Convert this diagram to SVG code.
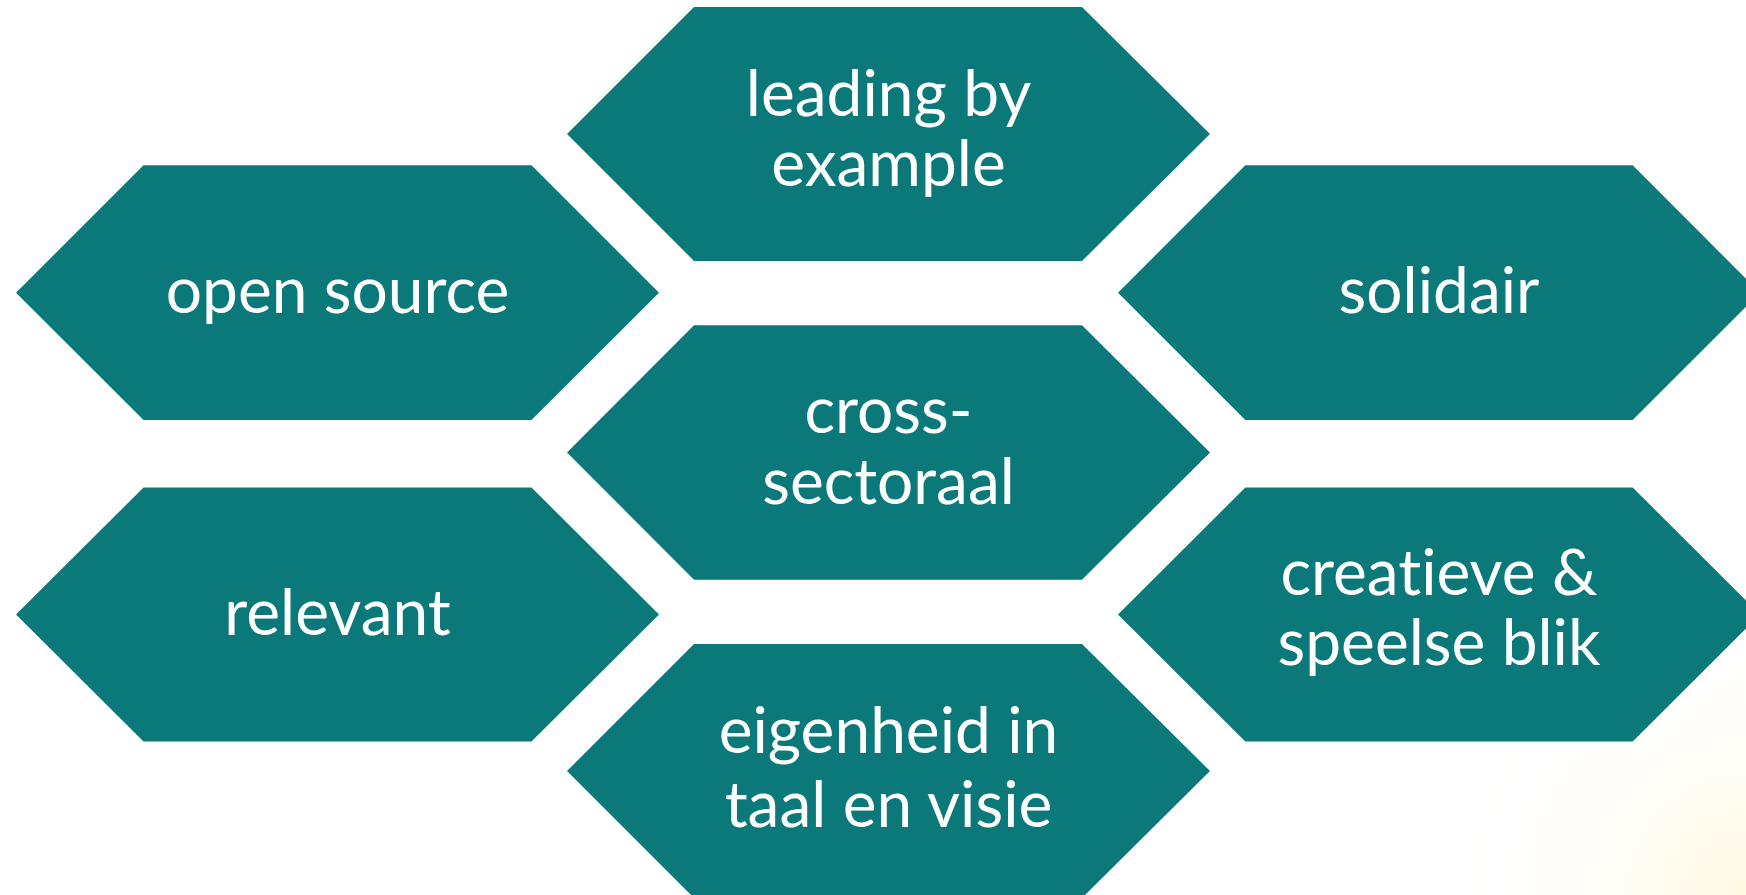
<svg xmlns="http://www.w3.org/2000/svg" width="1746" height="895" viewBox="0 0 1746 895">
  <defs>
    <radialGradient id="glow" cx="1746" cy="895" r="300" gradientUnits="userSpaceOnUse">
      <stop offset="0" stop-color="#FFF8E2" stop-opacity="1"/>
      <stop offset="1" stop-color="#FFFFFF" stop-opacity="0"/>
    </radialGradient>
  </defs>
  <style>
    .hex { fill: #0B7979; }
    .lbl { fill: #FFFFFF; font-family: Lato, "Open Sans", sans-serif; font-size: 64px; text-anchor: middle; font-variant-ligatures: none; font-feature-settings: "liga" 0, "clig" 0; }
  </style>
  <rect x="0" y="0" width="1746" height="895" fill="#FFFFFF"/>
  <rect x="1400" y="560" width="346" height="335" fill="url(#glow)"/>

  <g id="node-leading">
    <polygon class="hex" points="567,134 694,7 1082,7 1210,134 1082,261 694,261"/>
    <text class="lbl" x="888.5" y="116">leading by</text>
    <text class="lbl" x="888.5" y="186">example</text>
  </g>
  <g id="node-opensource">
    <polygon class="hex" points="16,292.7 143.5,165.3 531.5,165.3 659,292.7 531.5,420 143.5,420"/>
    <text class="lbl" x="337.5" y="313">open source</text>
  </g>
  <g id="node-solidair">
    <polygon class="hex" points="1118,292.7 1245.3,165.3 1632.7,165.3 1760,292.7 1632.7,420 1245.3,420"/>
    <text class="lbl" x="1439" y="313">solidair</text>
  </g>
  <g id="node-crosssectoraal">
    <polygon class="hex" points="567,452.5 694,325.3 1082,325.3 1210,452.5 1082,579.7 694,579.7"/>
    <text class="lbl" x="888.5" y="433">cross-</text>
    <text class="lbl" x="888.5" y="504">sectoraal</text>
  </g>
  <g id="node-relevant">
    <polygon class="hex" points="16,614.5 143.5,487.5 531.5,487.5 659,614.5 531.5,741.5 143.5,741.5"/>
    <text class="lbl" x="337.5" y="635">relevant</text>
  </g>
  <g id="node-creatieve">
    <polygon class="hex" points="1118,614.5 1245.3,487.5 1632.7,487.5 1760,614.5 1632.7,741.5 1245.3,741.5"/>
    <text class="lbl" x="1439" y="595">creatieve &amp;</text>
    <text class="lbl" x="1439" y="665">speelse blik</text>
  </g>
  <g id="node-eigenheid">
    <polygon class="hex" points="567,771 694,644 1082,644 1210,771 1082,898 694,898"/>
    <text class="lbl" x="888.5" y="753">eigenheid in</text>
    <text class="lbl" x="888.5" y="827">taal en visie</text>
  </g>
  <g id="connectors"></g>
</svg>
